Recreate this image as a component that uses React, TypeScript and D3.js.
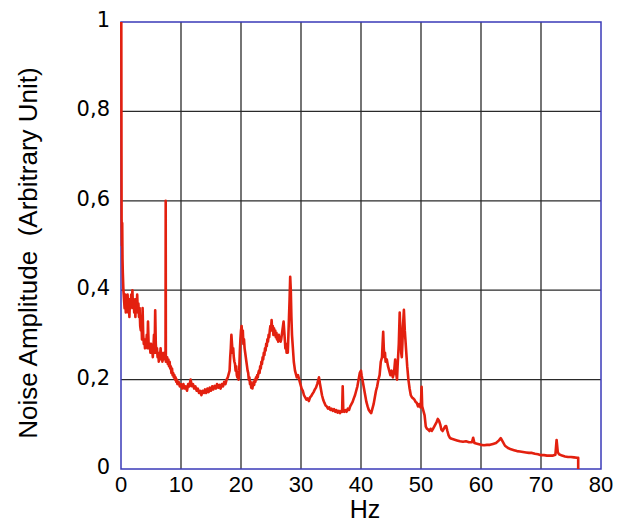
import React from "react";
import * as d3 from "d3";

const xTicks = [0, 10, 20, 30, 40, 50, 60, 70, 80];
const yTicks = [0, 0.2, 0.4, 0.6, 0.8, 1];
const yTickLabels = ["0", "0,2", "0,4", "0,6", "0,8", "1"];
const xLabel = "Hz";
const yLabel = "Noise Amplitude  (Arbitrary Unit)";

// [Hz, amplitude]
const lowBand: [number, number][] = [
  [0.05, 1.0], [0.08, 0.7], [0.1, 0.56], [0.15, 0.5], [0.2, 0.55], [0.25, 0.47], [0.3, 0.44], [0.35, 0.42],
  [0.4, 0.4], [0.5, 0.38], [0.6, 0.36], [0.7, 0.39], [0.8, 0.35], [0.9, 0.38], [1.0, 0.36],
  [1.1, 0.39], [1.2, 0.35], [1.3, 0.37], [1.4, 0.34], [1.5, 0.38], [1.6, 0.36], [1.7, 0.39], [1.8, 0.37],
  [1.9, 0.4], [2.0, 0.36], [2.1, 0.38], [2.2, 0.35], [2.3, 0.37], [2.4, 0.34], [2.5, 0.38], [2.6, 0.36],
  [2.7, 0.39], [2.8, 0.35], [2.9, 0.37], [3.0, 0.34], [3.1, 0.36], [3.2, 0.32],
  [3.3, 0.31], [3.4, 0.33], [3.5, 0.29], [3.6, 0.36], [3.7, 0.3], [3.8, 0.28], [3.9, 0.29], [4.0, 0.27],
  [4.1, 0.29], [4.2, 0.28], [4.3, 0.3], [4.4, 0.27], [4.5, 0.33], [4.6, 0.28], [4.7, 0.27], [4.8, 0.28],
  [4.9, 0.26], [5.0, 0.28], [5.1, 0.26], [5.2, 0.27], [5.3, 0.25], [5.4, 0.27], [5.5, 0.3], [5.6, 0.26],
  [5.7, 0.355], [5.8, 0.28], [5.9, 0.26], [6.0, 0.27], [6.1, 0.25], [6.2, 0.26], [6.3, 0.24], [6.4, 0.26],
  [6.5, 0.25], [6.6, 0.27], [6.7, 0.245], [6.8, 0.26], [6.9, 0.24], [7.0, 0.255], [7.1, 0.245], [7.2, 0.26],
  [7.3, 0.25], [7.42, 0.25], [7.45, 0.6], [7.48, 0.24],
  [7.6, 0.24], [7.7, 0.25], [7.8, 0.235], [7.9, 0.245], [8.0, 0.23], [8.1, 0.24], [8.2, 0.225], [8.3, 0.23],
  [8.4, 0.215], [8.5, 0.225], [8.6, 0.21], [8.7, 0.215], [8.8, 0.205], [8.9, 0.21], [9.0, 0.2], [9.1, 0.205],
  [9.2, 0.195], [9.3, 0.2], [9.4, 0.19], [9.6, 0.195], [9.8, 0.185], [10.0, 0.19],
];

const midBand: [number, number][] = [
  [10.2, 0.18], [10.4, 0.19], [10.6, 0.18], [10.8, 0.185], [11.0, 0.175], [11.2, 0.19], [11.4, 0.185],
  [11.6, 0.2], [11.8, 0.185], [12.0, 0.19], [12.2, 0.18], [12.4, 0.185], [12.6, 0.175], [12.8, 0.18],
  [13.0, 0.17], [13.2, 0.175], [13.4, 0.165], [13.6, 0.175], [13.8, 0.17], [14.0, 0.178], [14.2, 0.17],
  [14.4, 0.18], [14.6, 0.172], [14.8, 0.182], [15.0, 0.175], [15.2, 0.185], [15.4, 0.178], [15.6, 0.186],
  [15.8, 0.18], [16.0, 0.19], [16.2, 0.182], [16.4, 0.188], [16.6, 0.18], [16.8, 0.19], [17.0, 0.185],
  [17.2, 0.195], [17.4, 0.19], [17.6, 0.2], [17.8, 0.205], [18.0, 0.215],
  [18.1, 0.22], [18.2, 0.25], [18.3, 0.27], [18.4, 0.3], [18.5, 0.28], [18.6, 0.26], [18.7, 0.27],
  [18.8, 0.25], [18.9, 0.24], [19.0, 0.235], [19.1, 0.22], [19.2, 0.23], [19.3, 0.21], [19.4, 0.205],
  [19.5, 0.215], [19.6, 0.2], [19.7, 0.22], [19.8, 0.26], [19.9, 0.29], [20.0, 0.31], [20.1, 0.32],
  [20.2, 0.3], [20.3, 0.31], [20.4, 0.28], [20.5, 0.29], [20.6, 0.27], [20.7, 0.26], [20.8, 0.25],
  [20.9, 0.24], [21.0, 0.23], [21.1, 0.22], [21.2, 0.215], [21.3, 0.2], [21.4, 0.205], [21.5, 0.19],
  [21.6, 0.195], [21.7, 0.182], [21.8, 0.19], [21.9, 0.18], [22.0, 0.19], [22.1, 0.195], [22.2, 0.188],
  [22.3, 0.2], [22.4, 0.195], [22.5, 0.205], [22.6, 0.2], [22.7, 0.21], [22.8, 0.205], [22.9, 0.215],
  [23.0, 0.22], [23.1, 0.215], [23.2, 0.23], [23.3, 0.225], [23.4, 0.24], [23.5, 0.235], [23.6, 0.25],
  [23.7, 0.245], [23.8, 0.26], [23.9, 0.255], [24.0, 0.27], [24.1, 0.265], [24.2, 0.28], [24.3, 0.275],
  [24.4, 0.29], [24.5, 0.285], [24.6, 0.3], [24.7, 0.295], [24.8, 0.31], [24.9, 0.32], [25.0, 0.31],
  [25.1, 0.333], [25.2, 0.31], [25.3, 0.32], [25.4, 0.3], [25.5, 0.315], [25.6, 0.3], [25.7, 0.31],
  [25.8, 0.295], [25.9, 0.305], [26.0, 0.29], [26.1, 0.3], [26.2, 0.285], [26.3, 0.3], [26.4, 0.29],
  [26.5, 0.295], [26.6, 0.285], [26.7, 0.29], [26.8, 0.3], [26.9, 0.31], [27.0, 0.32], [27.1, 0.33],
  [27.2, 0.31], [27.3, 0.29], [27.4, 0.27], [27.5, 0.28], [27.6, 0.26], [27.7, 0.27], [27.8, 0.26],
  [27.9, 0.3], [28.0, 0.34], [28.1, 0.38], [28.2, 0.43], [28.3, 0.4], [28.4, 0.34], [28.5, 0.3],
  [28.6, 0.28], [28.7, 0.26], [28.8, 0.24], [28.9, 0.23], [29.0, 0.22], [29.1, 0.215], [29.2, 0.21],
  [29.3, 0.205], [29.5, 0.21], [29.7, 0.2], [29.9, 0.19], [30.1, 0.18],
];

const highBand: [number, number][] = [
  [30.3, 0.175], [30.5, 0.165], [30.7, 0.16], [30.9, 0.155], [31.1, 0.158], [31.3, 0.152], [31.5, 0.16],
  [31.7, 0.163], [31.9, 0.168], [32.1, 0.172], [32.3, 0.178], [32.5, 0.182], [32.7, 0.19], [32.9, 0.2],
  [33.0, 0.205], [33.1, 0.195], [33.3, 0.18], [33.5, 0.165], [33.7, 0.155], [33.9, 0.148], [34.1, 0.142],
  [34.3, 0.14], [34.5, 0.135], [34.7, 0.138], [34.9, 0.132], [35.1, 0.135], [35.3, 0.13], [35.5, 0.134],
  [35.7, 0.128], [35.9, 0.132], [36.1, 0.126], [36.3, 0.13], [36.5, 0.125], [36.7, 0.13], [36.85, 0.128],
  [36.95, 0.185], [37.05, 0.13], [37.2, 0.128], [37.4, 0.132], [37.6, 0.128], [37.8, 0.135], [38.0, 0.132],
  [38.2, 0.14], [38.4, 0.145], [38.6, 0.15], [38.8, 0.158], [39.0, 0.165], [39.2, 0.175], [39.4, 0.185],
  [39.6, 0.2], [39.8, 0.215], [40.0, 0.22], [40.1, 0.21], [40.3, 0.195], [40.5, 0.18], [40.7, 0.165],
  [40.9, 0.15], [41.1, 0.14], [41.3, 0.132], [41.5, 0.128], [41.7, 0.125], [41.9, 0.135], [42.1, 0.145],
  [42.3, 0.16], [42.5, 0.175], [42.7, 0.185], [42.9, 0.2], [43.1, 0.21], [43.3, 0.24], [43.5, 0.25],
  [43.6, 0.28], [43.7, 0.307], [43.8, 0.27], [43.9, 0.25], [44.0, 0.26], [44.1, 0.24], [44.3, 0.245],
  [44.5, 0.23], [44.7, 0.22], [44.9, 0.21], [45.1, 0.22], [45.3, 0.205], [45.5, 0.215], [45.7, 0.245],
  [45.8, 0.22], [46.0, 0.2], [46.1, 0.23], [46.3, 0.28], [46.45, 0.35], [46.6, 0.3], [46.7, 0.26],
  [46.8, 0.25], [46.9, 0.28], [47.0, 0.32], [47.15, 0.356], [47.3, 0.31], [47.4, 0.29], [47.5, 0.27],
  [47.7, 0.23], [47.9, 0.2], [48.1, 0.18], [48.3, 0.165], [48.5, 0.16], [48.7, 0.158], [48.9, 0.155],
  [49.1, 0.15], [49.3, 0.148], [49.5, 0.14], [49.7, 0.145], [49.9, 0.138], [50.0, 0.15], [50.1, 0.184],
  [50.2, 0.14], [50.4, 0.13], [50.6, 0.12], [50.8, 0.095],
  [51.0, 0.09], [51.2, 0.088], [51.4, 0.085], [51.6, 0.09], [51.8, 0.085], [52.0, 0.09], [52.2, 0.095],
  [52.4, 0.1], [52.6, 0.105], [52.8, 0.112], [53.0, 0.108], [53.2, 0.1], [53.4, 0.088], [53.6, 0.085],
  [53.8, 0.09], [54.0, 0.095], [54.2, 0.096], [54.4, 0.085], [54.6, 0.075], [54.8, 0.07], [55.0, 0.068],
  [55.5, 0.066], [56.0, 0.064], [56.5, 0.062], [57.0, 0.061], [57.5, 0.062], [58.0, 0.06], [58.5, 0.06],
  [58.7, 0.07], [58.9, 0.058], [59.5, 0.056], [60.0, 0.054], [60.5, 0.053], [61.0, 0.054], [61.5, 0.054],
  [62.0, 0.056], [62.5, 0.058], [63.0, 0.064], [63.3, 0.069], [63.6, 0.062], [64.0, 0.052], [64.5, 0.047],
  [65.0, 0.044], [65.5, 0.042], [66.0, 0.04], [66.5, 0.039], [67.0, 0.038], [67.5, 0.037], [68.0, 0.036],
  [68.5, 0.036], [69.0, 0.034], [69.5, 0.033], [70.0, 0.031], [70.5, 0.031], [71.0, 0.03], [71.5, 0.03],
  [72.0, 0.03], [72.4, 0.032], [72.6, 0.065], [72.8, 0.038], [73.0, 0.033], [73.5, 0.03], [74.0, 0.028],
  [74.5, 0.027], [75.0, 0.027], [75.5, 0.026], [76.0, 0.025], [76.2, 0.025], [76.2, 0.0],
];

const spectrum = [...lowBand, ...midBand, ...highBand];

const W = 622;
const H = 524;
const left = 121;
const right = 601;
const top = 22;
const bottom = 469;

export default function App() {
  const x = d3.scaleLinear().domain([0, 80]).range([left, right]);
  const y = d3.scaleLinear().domain([0, 1]).range([bottom, top]);
  const line = d3
    .line<[number, number]>()
    .x((d) => x(d[0]))
    .y((d) => y(d[1]));

  const innerX = xTicks.filter((t) => t > 0 && t < 80);
  const innerY = yTicks.filter((t) => t > 0 && t < 1);

  return (
    <svg
      width={W}
      height={H}
      style={{ position: "absolute", left: 0, top: 0, background: "#fff" }}
    >
      <rect x={0} y={0} width={W} height={H} fill="#fff" />
      {innerX.map((t) => (
        <line key={"gx" + t} x1={x(t)} x2={x(t)} y1={y(0)} y2={y(1)} stroke="#2a2a2a" strokeWidth={1.3} />
      ))}
      {innerY.map((t) => (
        <line key={"gy" + t} x1={x(0)} x2={x(80)} y1={y(t)} y2={y(t)} stroke="#2a2a2a" strokeWidth={1.3} />
      ))}
      <rect
        x={x(0)}
        y={y(1)}
        width={x(80) - x(0)}
        height={y(0) - y(1)}
        fill="none"
        stroke="#3a3ab8"
        strokeWidth={1.5}
      />
      <path d={line(spectrum) ?? ""} fill="none" stroke="#e3200f" strokeWidth={2.6} strokeLinejoin="round" />
      {xTicks.map((t) => (
        <text
          key={"tx" + t}
          x={x(t)}
          y={492}
          textAnchor="middle"
          fontFamily="Liberation Sans, Arial, sans-serif"
          fontSize={22}
          fill="#000"
        >
          {t}
        </text>
      ))}
      {yTicks.map((t, i) => (
        <text
          key={"ty" + t}
          x={110}
          y={y(t) - 2}
          textAnchor="end"
          dominantBaseline="central"
          fontFamily="DejaVu Sans, Verdana, sans-serif"
          fontSize={21}
          fill="#000"
        >
          {yTickLabels[i]}
        </text>
      ))}
      <text
        x={365}
        y={518}
        textAnchor="middle"
        fontFamily="Liberation Sans, Arial, sans-serif"
        fontSize={25}
        fill="#000"
      >
        {xLabel}
      </text>
      <text
        transform={`translate(37, 253) rotate(-90)`}
        textAnchor="middle"
        fontFamily="Liberation Sans, Arial, sans-serif"
        fontSize={26}
        fill="#000"
        style={{ whiteSpace: "pre" }}
      >
        {yLabel}
      </text>
    </svg>
  );
}
